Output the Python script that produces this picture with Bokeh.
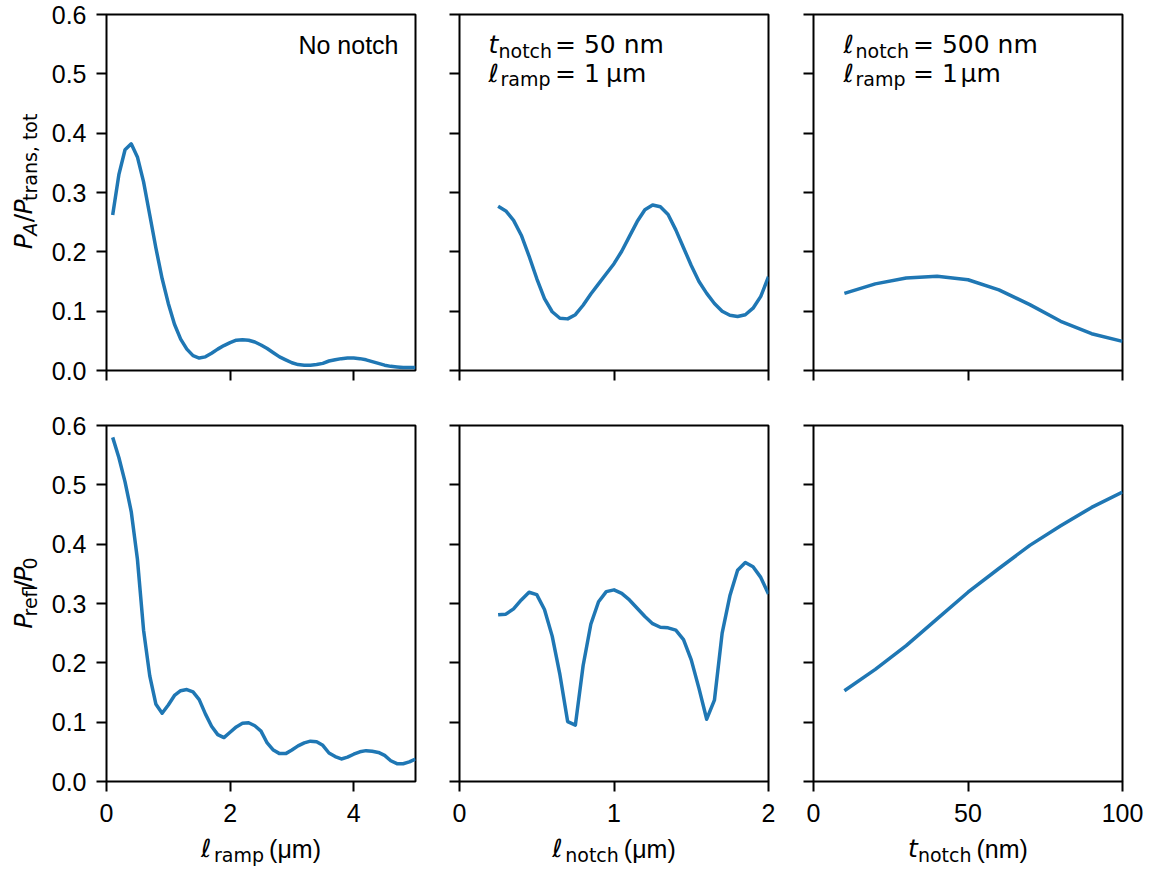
import math
from bokeh.plotting import figure
from bokeh.models import (Range1d, FixedTicker, Label, NumeralTickFormatter,
                          CustomLabelingPolicy)
from bokeh.core.properties import value
from bokeh.layouts import row, column
from bokeh.embed import file_html
from bokeh.resources import INLINE

BLUE = "#1f77b4"

# ---------------- data ----------------
lramp = [0.1, 0.2, 0.3, 0.4, 0.5, 0.6, 0.7, 0.8, 0.9, 1.0,
         1.1, 1.2, 1.3, 1.4, 1.5, 1.6, 1.7, 1.8, 1.9, 2.0,
         2.1, 2.2, 2.3, 2.4, 2.5, 2.6, 2.7, 2.8, 2.9, 3.0,
         3.1, 3.2, 3.3, 3.4, 3.5, 3.6, 3.7, 3.8, 3.9, 4.0,
         4.1, 4.2, 4.3, 4.4, 4.5, 4.6, 4.7, 4.8, 4.9, 5.0]
pa_vs_lramp = [0.262, 0.330, 0.372, 0.382, 0.360, 0.318, 0.262, 0.206, 0.155, 0.113,
               0.078, 0.053, 0.036, 0.025, 0.021, 0.023, 0.029, 0.036, 0.042, 0.047,
               0.051, 0.052, 0.051, 0.048, 0.043, 0.037, 0.030, 0.023, 0.018, 0.013,
               0.010, 0.009, 0.009, 0.010, 0.012, 0.016, 0.018, 0.020, 0.021, 0.021,
               0.020, 0.018, 0.015, 0.012, 0.009, 0.007, 0.006, 0.005, 0.005, 0.005]
prefl_vs_lramp = [0.580, 0.546, 0.505, 0.455, 0.375, 0.255, 0.178, 0.130, 0.115, 0.129,
                  0.145, 0.153, 0.155, 0.151, 0.138, 0.114, 0.093, 0.079, 0.074, 0.083,
                  0.092, 0.098, 0.099, 0.094, 0.085, 0.065, 0.053, 0.047, 0.047, 0.053,
                  0.060, 0.065, 0.068, 0.067, 0.061, 0.048, 0.042, 0.038, 0.041, 0.046,
                  0.050, 0.052, 0.051, 0.049, 0.044, 0.035, 0.030, 0.030, 0.033, 0.038]

lnotch = [0.25, 0.30, 0.35, 0.40, 0.45, 0.50, 0.55, 0.60, 0.65, 0.70,
          0.75, 0.80, 0.85, 0.90, 0.95, 1.00, 1.05, 1.10, 1.15, 1.20,
          1.25, 1.30, 1.35, 1.40, 1.45, 1.50, 1.55, 1.60, 1.65, 1.70,
          1.75, 1.80, 1.85, 1.90, 1.95, 2.00]
pa_vs_lnotch = [0.277, 0.269, 0.253, 0.228, 0.193, 0.155, 0.121, 0.099, 0.088, 0.087,
                0.094, 0.110, 0.129, 0.146, 0.163, 0.180, 0.201, 0.226, 0.251, 0.271,
                0.279, 0.276, 0.263, 0.237, 0.207, 0.177, 0.150, 0.130, 0.113, 0.100,
                0.093, 0.091, 0.094, 0.105, 0.125, 0.158]
prefl_vs_lnotch = [0.281, 0.282, 0.291, 0.306, 0.319, 0.315, 0.290, 0.245, 0.180, 0.101,
                   0.095, 0.195, 0.265, 0.303, 0.320, 0.323, 0.317, 0.306, 0.292, 0.278,
                   0.266, 0.260, 0.259, 0.255, 0.239, 0.205, 0.157, 0.105, 0.137, 0.250,
                   0.313, 0.356, 0.369, 0.362, 0.344, 0.316]

tnotch = [10, 20, 30, 40, 50, 60, 70, 80, 90, 100]
pa_vs_tnotch = [0.130, 0.146, 0.156, 0.159, 0.153, 0.136, 0.111, 0.083, 0.062, 0.049]
prefl_vs_tnotch = [0.153, 0.189, 0.229, 0.274, 0.319, 0.359, 0.398, 0.431, 0.462, 0.488]

ticks_lramp = [0, 2, 4]
ticks_lnotch = [0, 1, 2]
ticks_tnotch = [0, 50, 100]
ticks_y = [0.0, 0.1, 0.2, 0.3, 0.4, 0.5, 0.6]

# ---------------- geometry / fonts ----------------
FW, FH = 309, 356
DV = "DejaVu Sans"
LS = "Liberation Sans"
BIG = 25
SUB = 19
N, I = "normal", "italic"
K = 0.4   # baseline correction (fraction of font size)

DV_W = {" ": .318, ",": .318, "/": .337, "=": .838, "A": .684, "P": .603,
        "a": .613, "c": .550, "e": .615, "f": .352, "h": .634, "l": .278,
        "m": .974, "n": .634, "o": .612, "p": .635, "r": .411, "s": .521,
        "t": .392, "\u03bc": .636, "\u2113": .52, "(": .390, ")": .390}
for d in "0123456789":
    DV_W[d] = .636
LS_W = {" ": .278, "(": .333, ")": .333, "\u03bc": .576, "m": .833, "n": .556}


def text_w(text, font, size):
    tbl = DV_W if font == DV else LS_W
    return sum(tbl.get(ch, 0.6) for ch in text) * size


def to_data(p, px, py):
    x0, x1 = p.x_range.start, p.x_range.end
    y0, y1 = p.y_range.start, p.y_range.end
    return x0 + px * (x1 - x0) / FW, y0 + py * (y1 - y0) / FH


def frame_label(p, px, py, text, font, size, style="normal", align="left"):
    x, y = to_data(p, px, py + K * size)
    p.add_layout(Label(x=x, y=y, text=text, text_font=font, text_font_size=f"{size}px",
                       text_font_style=style, text_color="black", text_align=align,
                       text_baseline="alphabetic"))


def place(p, items, py):
    for px, text, font, size, style, drop in items:
        frame_label(p, px, py - drop, text, font, size, style)


def make_fig(xr, xticks, show_x, show_y, borders):
    l, r, t, b = borders
    p = figure(frame_width=FW, frame_height=FH,
               x_range=Range1d(*xr), y_range=Range1d(0, 0.6),
               output_backend="svg", toolbar_location=None,
               min_border_left=l, min_border_right=r,
               min_border_top=t, min_border_bottom=b)
    p.xgrid.visible = False
    p.ygrid.visible = False
    p.outline_line_color = "black"
    p.outline_line_width = 2
    p.background_fill_color = "white"
    p.border_fill_color = "white"
    for ax, ticks, show, standoff in ((p.xaxis[0], xticks, show_x, 12),
                                      (p.yaxis[0], ticks_y, show_y, 10)):
        ax.ticker = FixedTicker(ticks=ticks)
        ax.axis_line_color = None
        ax.major_tick_line_color = "black"
        ax.major_tick_line_width = 2
        ax.major_tick_out = 10
        ax.major_tick_in = 0
        ax.minor_tick_line_color = None
        ax.major_label_text_font = LS
        ax.major_label_text_color = "black"
        if show:
            ax.major_label_text_font_size = "25px"
            ax.major_label_standoff = standoff
        else:
            ax.major_label_text_font_size = "1px"
            ax.major_label_standoff = 0
            ax.major_label_policy = CustomLabelingPolicy(code="return []")
    p.yaxis[0].formatter = NumeralTickFormatter(format="0.0")
    return p


def strip(w, h):
    s = figure(width=w, height=h, x_range=Range1d(0, w), y_range=Range1d(0, h),
               output_backend="svg", toolbar_location=None,
               x_axis_location=None, y_axis_location=None, min_border=0)
    s.xgrid.visible = False
    s.ygrid.visible = False
    s.outline_line_color = None
    s.background_fill_color = "white"
    s.border_fill_color = "white"
    return s


def compose(s, pieces, center, base, vertical=False):
    total = 0.0
    for pc in pieces:
        total += pc[1] if pc[0] is None else text_w(pc[0], pc[1], pc[2])
    cur = center - total / 2
    for pc in pieces:
        if pc[0] is None:
            cur += pc[1]
            continue
        text, font, size, style, drop = pc
        if vertical:
            x, y, ang = base + drop - K * size, cur, math.pi / 2
        else:
            x, y, ang = cur, base - drop + K * size, 0
        s.text(x=[x], y=[y], text=[text], angle=ang,
               text_font=value(font), text_font_size=value(f"{size}px"),
               text_font_style=style, text_color="black",
               text_align="left", text_baseline="alphabetic")
        cur += text_w(text, font, size)


TOP_B = (14, 25)
BOT_B = (30, 53)
ROW1_H = TOP_B[0] + FH + TOP_B[1]
ROW2_H = BOT_B[0] + FH + BOT_B[1]
f1 = make_fig((0, 5), ticks_lramp, False, True, (62, 10) + TOP_B)
f2 = make_fig((0, 2), ticks_lnotch, False, False, (34, 12) + TOP_B)
f3 = make_fig((0, 100), ticks_tnotch, False, False, (33, 24) + TOP_B)
f4 = make_fig((0, 5), ticks_lramp, True, True, (62, 10) + BOT_B)
f5 = make_fig((0, 2), ticks_lnotch, True, False, (34, 12) + BOT_B)
f6 = make_fig((0, 100), ticks_tnotch, True, False, (33, 24) + BOT_B)

for p, xs, ys in ((f1, lramp, pa_vs_lramp), (f2, lnotch, pa_vs_lnotch), (f3, tnotch, pa_vs_tnotch),
                  (f4, lramp, prefl_vs_lramp), (f5, lnotch, prefl_vs_lnotch), (f6, tnotch, prefl_vs_tnotch)):
    p.line(xs, ys, line_color=BLUE, line_width=3.5, line_join="round")

# panel annotations (pixel offsets from frame left / frame bottom)
L1, L2 = FH - 40, FH - 68.5
frame_label(f1, 292, L1, "No notch", LS, BIG, align="right")
place(f2, [(29, "t", DV, BIG, I, 0), (39, "notch", DV, SUB, N, 4),
           (95.5, "= 50 nm", DV, BIG, N, 0)], L1)
place(f2, [(29, "\u2113", DV, BIG, N, 0), (41, "ramp", DV, SUB, N, 4),
           (95.5, "= 1", DV, BIG, N, 0), (146.5, "\u03bcm", DV, BIG, N, 0)], L2)
place(f3, [(30, "\u2113", DV, BIG, N, 0), (42, "notch", DV, SUB, N, 4),
           (99.5, "= 500 nm", DV, BIG, N, 0)], L1)
place(f3, [(30, "\u2113", DV, BIG, N, 0), (42, "ramp", DV, SUB, N, 4),
           (99.5, "= 1", DV, BIG, N, 0), (147, "\u03bcm", DV, BIG, N, 0)], L2)

# y-axis label strips (left of each row)
ys1 = strip(44, ROW1_H)
ys2 = strip(44, ROW2_H)
compose(ys1, [("P", DV, BIG, I, 0), ("A", DV, SUB, I, 4), (None, 2), ("/", DV, BIG, N, 0),
              ("P", DV, BIG, I, 0), ("trans, tot", DV, SUB, N, 4)],
        ROW1_H - 190, 33, vertical=True)
compose(ys2, [("P", DV, BIG, I, 0), ("refl", DV, SUB, N, 4), (None, 3), ("/", DV, BIG, N, 0),
              ("P", DV, BIG, I, 0), ("0", DV, SUB, N, 4)],
        ROW2_H - (603 - ROW1_H), 33, vertical=True)

# x-axis label strip (below bottom row)
XS_H = 868 - ROW1_H - ROW2_H
xs = strip(1146, XS_H)
XB = XS_H - (858 - ROW1_H - ROW2_H)
compose(xs, [("\u2113", DV, BIG, N, 0), ("ramp", DV, SUB, N, 4), (None, 5),
             ("(\u03bcm)", LS, BIG, N, 0)], 260.5, XB)
compose(xs, [("\u2113", DV, BIG, N, 0), ("notch", DV, SUB, N, 4), (None, 5),
             ("(\u03bcm)", LS, BIG, N, 0)], 613.5, XB)
compose(xs, [("t", DV, BIG, I, 0), ("notch", DV, SUB, N, 4), (None, 5),
             ("(nm)", LS, BIG, N, 0)], 967.5, XB)

layout = column(row(ys1, f1, f2, f3), row(ys2, f4, f5, f6), xs)
open("out.html", "w").write(file_html(layout, INLINE))
